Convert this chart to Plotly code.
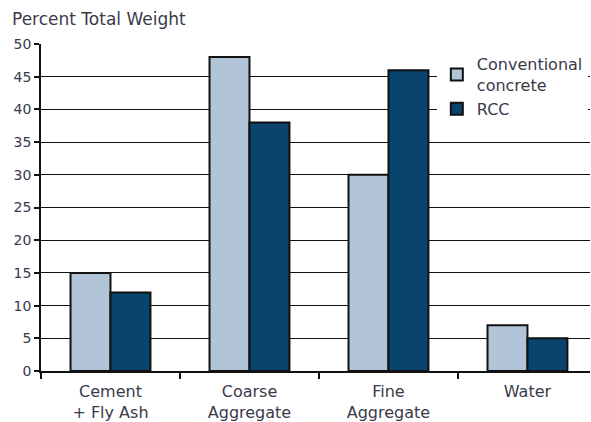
import plotly.graph_objects as go

categories = ["Cement<br>+ Fly Ash", "Coarse<br>Aggregate", "Fine<br>Aggregate", "Water"]
conventional = [15, 48, 30, 7]
rcc = [12, 38, 46, 5]
y_ticks = [0, 5, 10, 15, 20, 25, 30, 35, 40, 45, 50]

font_family = "DejaVu Sans, Arial, sans-serif"
text_color = "#3a3a4a"

fig = go.Figure()
fig.add_trace(go.Bar(
    x=categories, y=conventional, name="Conventional<br>concrete",
    marker=dict(color="#b2c5d8", line=dict(color="#111111", width=2)),
))
fig.add_trace(go.Bar(
    x=categories, y=rcc, name="RCC",
    marker=dict(color="#08446d", line=dict(color="#111111", width=2)),
))

fig.update_layout(
    width=591, height=422,
    margin=dict(l=41, r=1, t=44, b=51, autoexpand=False),
    paper_bgcolor="white", plot_bgcolor="white",
    barmode="group", bargap=0.425, bargroupgap=0,
    font=dict(family=font_family, size=15, color=text_color),
    showlegend=True,
    legend=dict(
        x=0.721, y=0.99, xanchor="left", yanchor="top",
        bgcolor="white", borderwidth=0,
        font=dict(size=16, color=text_color),
        tracegroupgap=0,
    ),
    annotations=[dict(
        text="Percent Total Weight", xref="paper", yref="paper",
        x=-0.056, y=1.112, xanchor="left", yanchor="top",
        showarrow=False, font=dict(size=17, color=text_color),
    )],
)
fig.update_xaxes(
    type="category", range=[-0.5, 3.45],
    showline=True, linecolor="#111111", linewidth=1.5,
    ticks="outside", tickson="boundaries", ticklen=6, tickcolor="#111111",
    tickwidth=1.5, showgrid=False, ticklabelstandoff=5,
    tickfont=dict(size=16),
)
fig.update_yaxes(
    range=[0, 50], tickvals=y_ticks,
    showline=True, linecolor="#111111", linewidth=1.5,
    ticks="outside", ticklen=5, tickcolor="#111111", tickwidth=1.5,
    showgrid=True, gridcolor="#111111", gridwidth=1.2,
    zeroline=False, tickfont=dict(size=14),
)

# remove the default page margin and scrollbars so the figure fills the window
page_css = "document.body.style.margin='0';document.body.style.overflow='hidden';"
fig.write_html("out.html", post_script=page_css, config={"displayModeBar": False})
